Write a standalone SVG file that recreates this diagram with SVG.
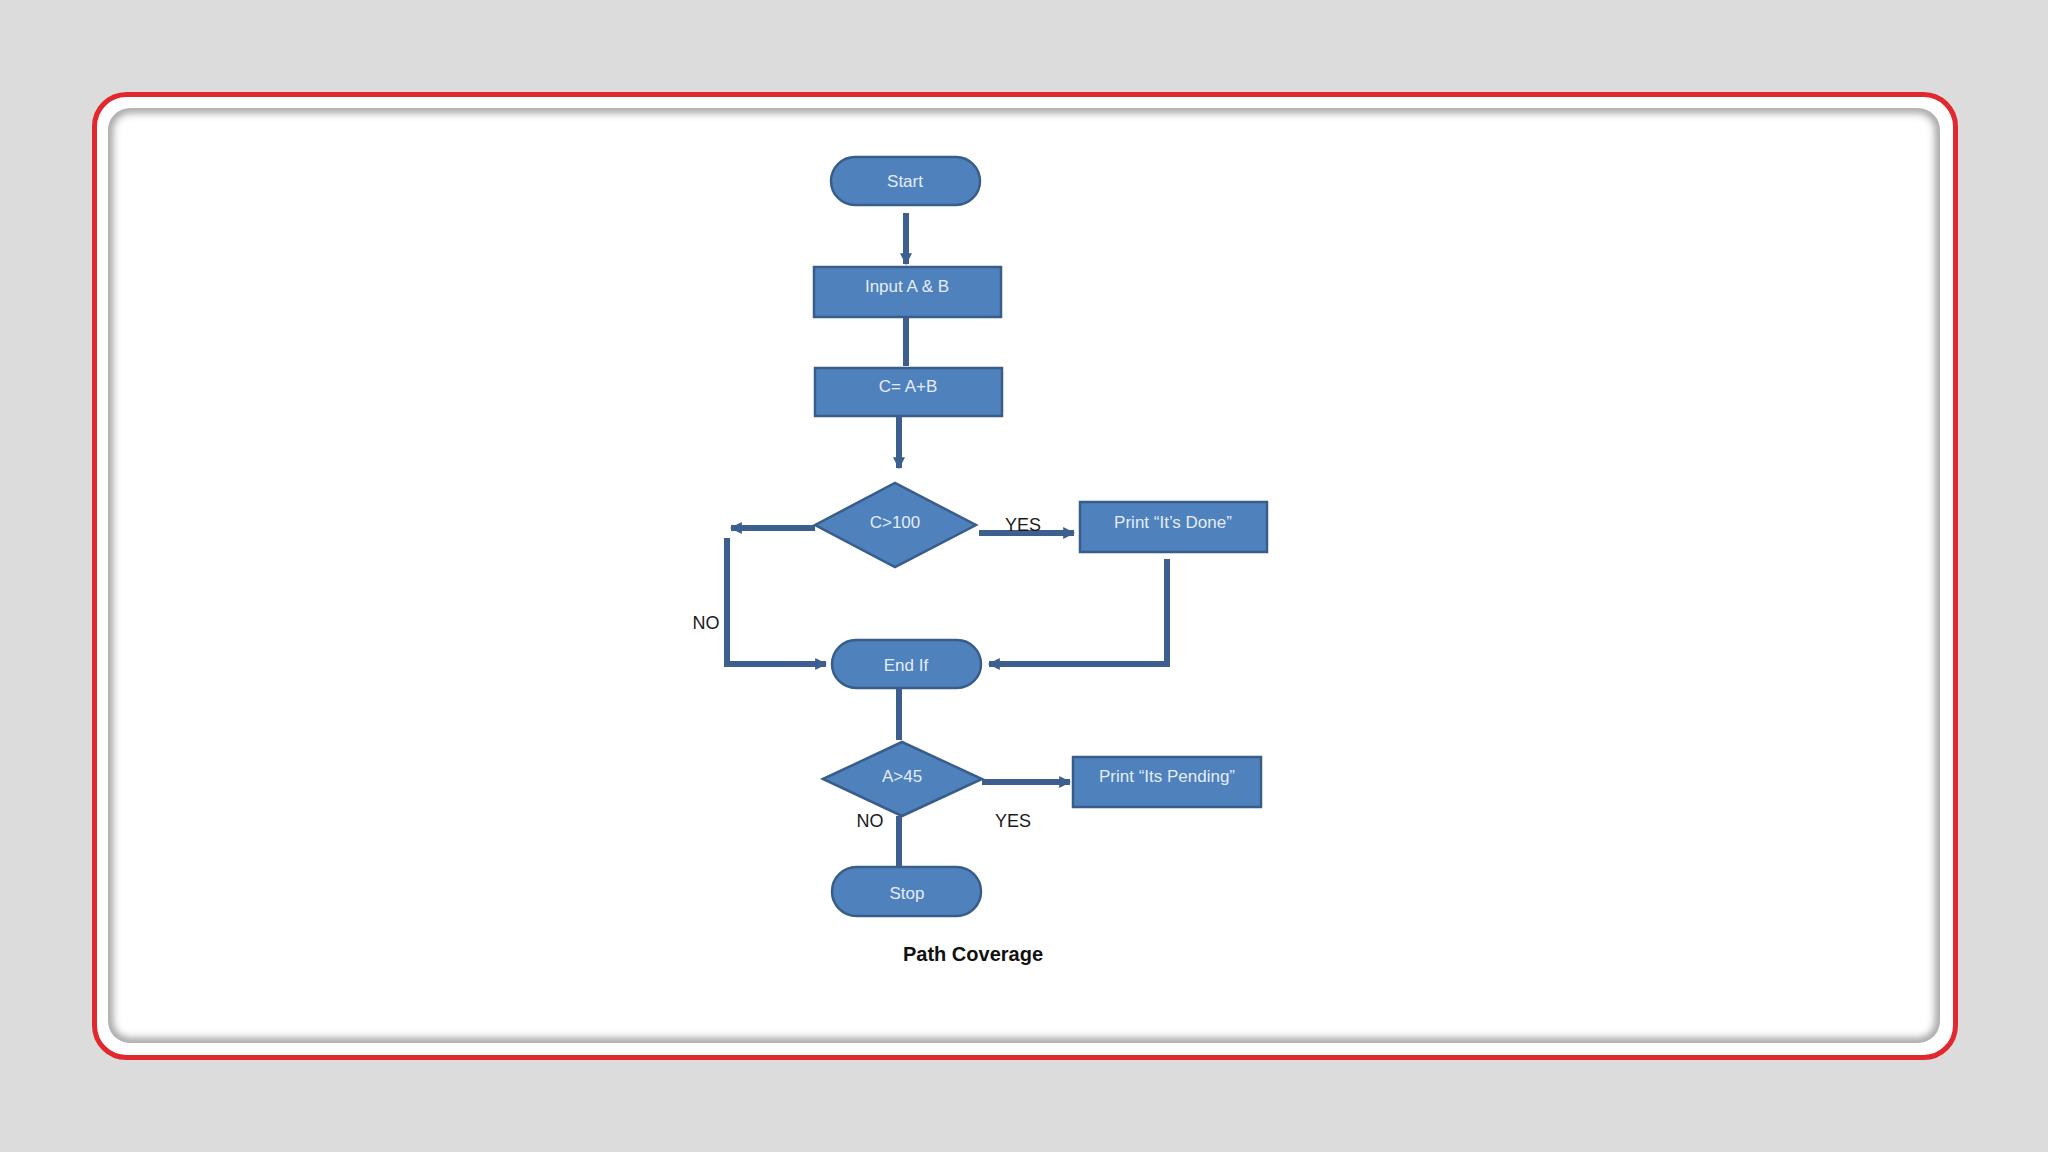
<svg xmlns="http://www.w3.org/2000/svg" width="2048" height="1152" viewBox="0 0 2048 1152">
<style>
.node{fill:#4f81bd;stroke:#385d8a;stroke-width:2.5}
.lbl{font-family:"Liberation Sans",Arial,sans-serif;font-size:17px;fill:#e4ecf7;text-anchor:middle;dominant-baseline:central}
.side{font-family:"Liberation Sans",Arial,sans-serif;font-size:18px;fill:#1a1a1a;text-anchor:middle}
.conn{fill:none;stroke:#3c5f90;stroke-width:6}
.title{font-family:"Liberation Sans",Arial,sans-serif;font-size:20px;font-weight:bold;fill:#111;text-anchor:middle}
</style>
<defs>
<marker id="ah" viewBox="0 0 10 10" refX="9" refY="5" markerWidth="2" markerHeight="2" orient="auto" markerUnits="strokeWidth">
<path d="M0,0 L10,5 L0,10 z" fill="#3c5f90"/>
</marker>
<clipPath id="pc"><rect x="108" y="108" width="1832" height="935" rx="22"/></clipPath>
<filter id="bl" x="-5%" y="-5%" width="110%" height="110%"><feGaussianBlur stdDeviation="4"/></filter>
</defs>
<rect width="2048" height="1152" fill="#dcdcdc"/>
<rect x="94.5" y="94.5" width="1861" height="963" rx="32" fill="#ffffff" stroke="#e0282e" stroke-width="5"/>
<g clip-path="url(#pc)">
<rect x="108" y="108" width="1832" height="935" rx="22" fill="#ffffff"/>
<rect x="108" y="108" width="1832" height="935" rx="22" fill="none" stroke="#8a8a8a" stroke-width="8" filter="url(#bl)"/>
</g>

<g id="connectors">
<path class="conn" d="M906,213 V264" marker-end="url(#ah)"/>
<path class="conn" d="M906,316 V366"/>
<path class="conn" d="M899,416 V468" marker-end="url(#ah)"/>
<path class="conn" d="M815,528 H731" marker-end="url(#ah)"/>
<path class="conn" d="M727,538 V664 H826" marker-end="url(#ah)"/>
<path class="conn" d="M979,533 H1074" marker-end="url(#ah)"/>
<path class="conn" d="M1167,559 V664 H989" marker-end="url(#ah)"/>
<path class="conn" d="M899,688 V740"/>
<path class="conn" d="M982,782 H1070" marker-end="url(#ah)"/>
<path class="conn" d="M899,816 V866"/>
</g>

<g id="start">
<rect class="node" x="831" y="157" width="149" height="48" rx="24"/>
<text class="lbl" x="905" y="181">Start</text>
</g>
<g id="input">
<rect class="node" x="814" y="267" width="187" height="50"/>
<text class="lbl" x="907" y="286">Input A &amp; B</text>
</g>
<g id="calc">
<rect class="node" x="815" y="368" width="187" height="48"/>
<text class="lbl" x="908" y="386">C= A+B</text>
</g>
<g id="dec1">
<polygon class="node" points="815,525 895,483 976,525 895,567"/>
<text class="lbl" x="895" y="522">C&gt;100</text>
</g>
<g id="done">
<rect class="node" x="1080" y="502" width="187" height="50"/>
<text class="lbl" x="1173" y="522">Print “It’s Done”</text>
</g>
<g id="endif">
<rect class="node" x="832" y="640" width="149" height="48" rx="24"/>
<text class="lbl" x="906" y="665">End If</text>
</g>
<g id="dec2">
<polygon class="node" points="823,779 902,742 982,779 902,816"/>
<text class="lbl" x="902" y="776">A&gt;45</text>
</g>
<g id="pending">
<rect class="node" x="1073" y="757" width="188" height="50"/>
<text class="lbl" x="1167" y="776">Print “Its Pending”</text>
</g>
<g id="stop">
<rect class="node" x="832" y="867" width="149" height="49" rx="24.5"/>
<text class="lbl" x="907" y="893">Stop</text>
</g>

<g id="labels">
<text class="side" x="1023" y="531">YES</text>
<text class="side" x="706" y="629">NO</text>
<text class="side" x="870" y="827">NO</text>
<text class="side" x="1013" y="827">YES</text>
<text class="title" x="973" y="961">Path Coverage</text>
</g>
</svg>
